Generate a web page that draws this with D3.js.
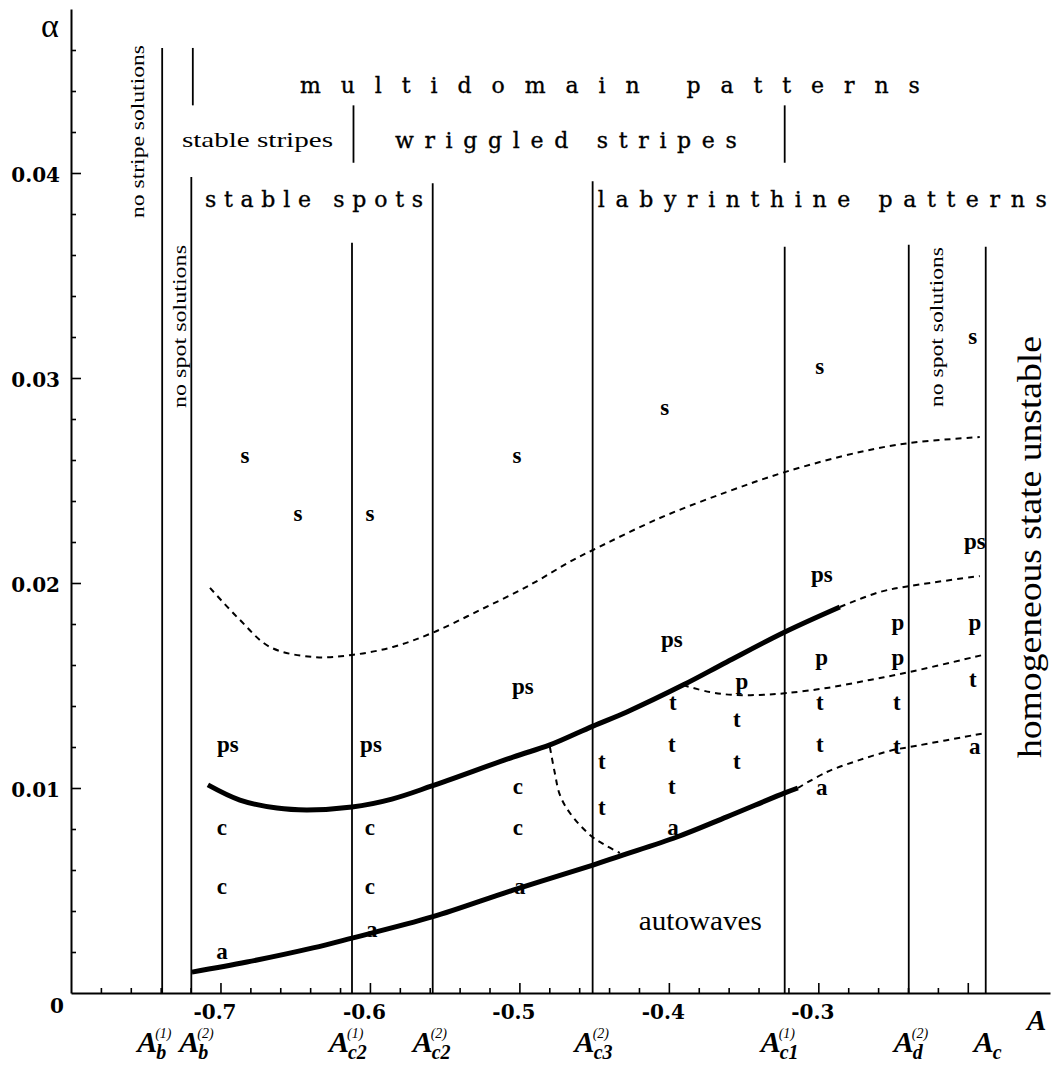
<!DOCTYPE html>
<html>
<head>
<meta charset="utf-8">
<script src="https://cdn.jsdelivr.net/npm/d3@7"></script>
<style>
  body { margin: 0; background: #fff; }
  text { fill: #000; }
</style>
</head>
<body>
<div id="chart"></div>
<script>
// ---- data ----
var xMajor = [-0.7, -0.6, -0.5, -0.4, -0.3, -0.2];
var xMajorLabels = ["-0.7", "-0.6", "-0.5", "-0.4", "-0.3", ""];
var yMajor = [0.01, 0.02, 0.03, 0.04];
var yMajorLabels = ["0.01", "0.02", "0.03", "0.04"];

// vertical boundaries A_b, A_c2 ... and where they stop at the top
var boundaryA = [-0.739, -0.7195, -0.612, -0.558, -0.451, -0.3225, -0.2395, -0.188];
var boundaryTop = [0.0461, 0.0398, 0.0366, 0.0395, 0.0396, 0.0364, 0.0365, 0.0364];
var boundarySub = ["b", "b", "c2", "c2", "c3", "c1", "d", "c"];
var boundarySup = ["(1)", "(2)", "(1)", "(2)", "(2)", "(1)", "(2)", ""];

// short separators between the headings
var sepA = [-0.7185, -0.611, -0.3225];
var sepFrom = [0.0433, 0.0405, 0.0405];
var sepTo = [0.0461, 0.0433, 0.0433];

// thick solid curves
var upperSolid = [[-0.7084, 0.01015], [-0.687, 0.00941], [-0.6622, 0.00902], [-0.6421, 0.00893],
  [-0.612, 0.00907], [-0.5853, 0.00946], [-0.5585, 0.0101], [-0.5043, 0.01151], [-0.4796, 0.0121],
  [-0.4508, 0.01302], [-0.4281, 0.01371], [-0.3906, 0.01502], [-0.3612, 0.01615], [-0.3224, 0.01761],
  [-0.2856, 0.01883]];
var lowerSolid = [[-0.7191, 0.00102], [-0.6823, 0.00151], [-0.6381, 0.0022], [-0.612, 0.00268],
  [-0.5585, 0.00371], [-0.5043, 0.00502], [-0.4508, 0.00624], [-0.4328, 0.00668], [-0.3946, 0.00761],
  [-0.3612, 0.00859], [-0.3224, 0.00976], [-0.3137, 0.0100]];

// dashed curves
var topDashed = [[-0.707, 0.01976], [-0.687, 0.0182], [-0.6669, 0.01688], [-0.6381, 0.01639],
  [-0.612, 0.01649], [-0.5846, 0.01688], [-0.5585, 0.01756], [-0.5264, 0.01868], [-0.493, 0.0199],
  [-0.4642, 0.02112], [-0.4508, 0.02161], [-0.406, 0.02317], [-0.3612, 0.02444], [-0.3224, 0.02541],
  [-0.2722, 0.02639], [-0.2388, 0.02683], [-0.192, 0.02712]];
var upperDashed = [[-0.2856, 0.01883], [-0.2589, 0.01956], [-0.2388, 0.01985], [-0.192, 0.02034]];
var middleDashed = [[-0.3906, 0.01502], [-0.3726, 0.01468], [-0.3572, 0.01454], [-0.3391, 0.01454],
  [-0.3211, 0.01463], [-0.2943, 0.01488], [-0.2656, 0.01527], [-0.2388, 0.01566], [-0.19, 0.01649]];
var lowerDashed = [[-0.3137, 0.0100], [-0.2943, 0.01078], [-0.2722, 0.01137], [-0.2502, 0.01185],
  [-0.2388, 0.0120], [-0.1886, 0.01268]];
var crossDashed = [[-0.4796, 0.0120], [-0.4763, 0.01073], [-0.4729, 0.00966], [-0.4662, 0.00878],
  [-0.4528, 0.00771], [-0.4428, 0.00722], [-0.4328, 0.00683]];

// pattern markers
var sMarks = [[-0.6836, 0.0262], [-0.6482, 0.02337], [-0.6, 0.02337], [-0.5017, 0.0262],
  [-0.4027, 0.02854], [-0.299, 0.03054], [-0.1967, 0.032]];
var psMarks = [[-0.695, 0.0121], [-0.5993, 0.0121], [-0.4977, 0.01493], [-0.398, 0.01722],
  [-0.2977, 0.02039], [-0.1953, 0.022]];
var cMarks = [[-0.699, 0.00805], [-0.699, 0.00517], [-0.6, 0.00805], [-0.6, 0.00517],
  [-0.501, 0.01005], [-0.501, 0.00805]];
var aMarks = [[-0.699, 0.002], [-0.5987, 0.00307], [-0.4997, 0.00517], [-0.3973, 0.00805],
  [-0.2977, 0.0100], [-0.1953, 0.0120]];
var tMarks = [[-0.4448, 0.01127], [-0.4448, 0.00902], [-0.3973, 0.01415], [-0.398, 0.0121],
  [-0.398, 0.01005], [-0.3545, 0.01332], [-0.3545, 0.01127], [-0.299, 0.01415], [-0.299, 0.0121],
  [-0.2475, 0.01415], [-0.2475, 0.012], [-0.1967, 0.01527]];
var pMarks = [[-0.3512, 0.01517], [-0.2977, 0.01634], [-0.2468, 0.01805], [-0.2468, 0.01634],
  [-0.1953, 0.01805]];

// ---- layout ----
var svg_Width = 1051, svg_Height = 1065;
var serif = "Liberation Serif";
var wideSerif = "DejaVu Serif";

var svg = d3.select("#chart").append("svg")
  .attr("width", svg_Width)
  .attr("height", svg_Height);

var x = d3.scaleLinear().domain([-0.8, -0.145]).range([71, 1050]);
var y = d3.scaleLinear().domain([0, 0.048]).range([993, 9]);

// minor ticks
var xMinor = d3.range(-39, -9).filter(i => i % 5 !== 0).map(i => i * 0.02);
var yMinor = d3.range(1, 24).filter(i => i % 5 !== 0).map(i => i * 0.002);

svg.append("g")
  .attr("transform", "translate(0,993)")
  .call(d3.axisBottom(x).tickValues(xMinor).tickSize(-5).tickSizeOuter(0).tickFormat(""))
  .call(g => g.select(".domain").remove());
svg.append("g")
  .attr("transform", "translate(71,0)")
  .call(d3.axisLeft(y).tickValues(yMinor).tickSize(-5).tickSizeOuter(0).tickFormat(""))
  .call(g => g.select(".domain").remove());

// major ticks + labels
var xAxis = svg.append("g")
  .attr("transform", "translate(0,993)")
  .call(d3.axisBottom(x).tickValues(xMajor).tickSize(-10).tickSizeOuter(0).tickPadding(12)
    .tickFormat((d, i) => xMajorLabels[i]));
var yAxis = svg.append("g")
  .attr("transform", "translate(71,0)")
  .call(d3.axisLeft(y).tickValues(yMajor).tickSize(-10).tickSizeOuter(0).tickPadding(11)
    .tickFormat((d, i) => yMajorLabels[i]));

[xAxis, yAxis].forEach(function(g) {
  g.selectAll("text")
    .attr("font-family", wideSerif)
    .attr("font-weight", "bold")
    .attr("font-size", 20);
});
xAxis.selectAll("text").attr("dx", "-0.3em");
yAxis.selectAll("text").attr("dy", "0.42em");
svg.selectAll(".tick line").attr("stroke-width", 1.6);
svg.selectAll(".domain").attr("stroke-width", 2);

// origin and axis names
svg.append("text").attr("x", 57).attr("y", 1013).attr("text-anchor", "middle")
  .attr("font-family", wideSerif).attr("font-weight", "bold").attr("font-size", 20)
  .text("0");
svg.append("text").attr("x", 50).attr("y", 37).attr("text-anchor", "middle")
  .attr("font-family", serif).attr("font-size", 34)
  .text("α");
svg.append("text").attr("x", 1027).attr("y", 1030)
  .attr("font-family", serif).attr("font-style", "italic").attr("font-weight", "bold")
  .attr("font-size", 29)
  .text("A");

// vertical boundary lines
svg.selectAll(".boundary")
  .data(boundaryA)
  .enter()
  .append("line")
  .attr("class", "boundary")
  .attr("x1", d => x(d)).attr("x2", d => x(d))
  .attr("y1", y(0)).attr("y2", (d, i) => y(boundaryTop[i]))
  .attr("stroke", "#000").attr("stroke-width", 1.8);

svg.selectAll(".sep")
  .data(sepA)
  .enter()
  .append("line")
  .attr("class", "sep")
  .attr("x1", d => x(d)).attr("x2", d => x(d))
  .attr("y1", (d, i) => y(sepFrom[i])).attr("y2", (d, i) => y(sepTo[i]))
  .attr("stroke", "#000").attr("stroke-width", 1.8);

// boundary names under the axis
var nameNudge = [-5, 8, -3, 0, 2, -4, 5, 8];
boundaryA.forEach(function(a, i) {
  var jx = x(a) + nameNudge[i];
  var g = svg.append("g")
    .attr("font-family", serif).attr("font-style", "italic").attr("font-weight", "bold");
  g.append("text").attr("x", jx).attr("y", 1052).attr("text-anchor", "end")
    .attr("font-size", 30).text("A");
  g.append("text").attr("x", jx - 1).attr("y", 1059)
    .attr("font-size", 20).text(boundarySub[i]);
  g.append("text").attr("x", jx - 2).attr("y", 1038)
    .attr("font-size", 14).attr("font-weight", "normal").text(boundarySup[i]);
});

// curves
var line = d3.line()
  .x(d => x(d[0]))
  .y(d => y(d[1]))
  .curve(d3.curveCatmullRom.alpha(0.5));

[upperSolid, lowerSolid].forEach(function(c) {
  svg.append("path").attr("d", line(c))
    .attr("fill", "none").attr("stroke", "#000").attr("stroke-width", 5);
});
[topDashed, upperDashed, middleDashed, lowerDashed, crossDashed].forEach(function(c) {
  svg.append("path").attr("d", line(c))
    .attr("fill", "none").attr("stroke", "#000").attr("stroke-width", 2)
    .attr("stroke-dasharray", "6,5");
});

// pattern markers
var markSets = [["s", sMarks], ["ps", psMarks], ["c", cMarks], ["a", aMarks], ["t", tMarks], ["p", pMarks]];
markSets.forEach(function(m) {
  svg.selectAll(".mark-" + m[0])
    .data(m[1])
    .enter()
    .append("text")
    .attr("class", "mark-" + m[0])
    .attr("x", d => x(d[0]))
    .attr("y", d => y(d[1]))
    .attr("dy", "0.3em")
    .attr("text-anchor", "middle")
    .attr("font-family", serif)
    .attr("font-weight", "bold")
    .attr("font-size", 23)
    .text(m[0]);
});

// region headings (spaced letters)
function heading(txt, a0, a1, al, size, family, adjust) {
  return svg.append("text")
    .attr("x", x(a0)).attr("y", y(al))
    .attr("textLength", x(a1) - x(a0))
    .attr("lengthAdjust", adjust)
    .attr("font-family", family)
    .attr("font-size", size)
    .text(txt);
}
[heading("multidomain patterns", -0.6468, -0.2321, 0.0439, 22, wideSerif, "spacing"),
 heading("wriggled stripes", -0.5833, -0.3545, 0.04122, 22, wideSerif, "spacing"),
 heading("stable spots", -0.7104, -0.5645, 0.03834, 22, wideSerif, "spacing"),
 heading("labyrinthine patterns", -0.4475, -0.1472, 0.03834, 22, wideSerif, "spacing")]
  .forEach(t => t.attr("stroke", "#000").attr("stroke-width", 0.35));
heading("stable stripes", -0.7258, -0.6247, 0.04127, 22, serif, "spacingAndGlyphs");
heading("autowaves", -0.4201, -0.3378, 0.00307, 27, serif, "spacingAndGlyphs");

// rotated labels
function vlabel(txt, cx, bottom, len, size) {
  svg.append("text")
    .attr("transform", "translate(" + cx + "," + bottom + ") rotate(-90)")
    .attr("dominant-baseline", "central")
    .attr("textLength", len)
    .attr("lengthAdjust", "spacingAndGlyphs")
    .attr("font-family", serif)
    .attr("font-size", size)
    .text(txt);
}
vlabel("no stripe solutions", 138, 218, 173, 18);
vlabel("no spot solutions", 180, 408, 163, 18);
vlabel("no spot solutions", 937, 407, 160, 18);
vlabel("homogeneous state unstable", 1030, 758, 422, 33);
</script>
</body>
</html>
